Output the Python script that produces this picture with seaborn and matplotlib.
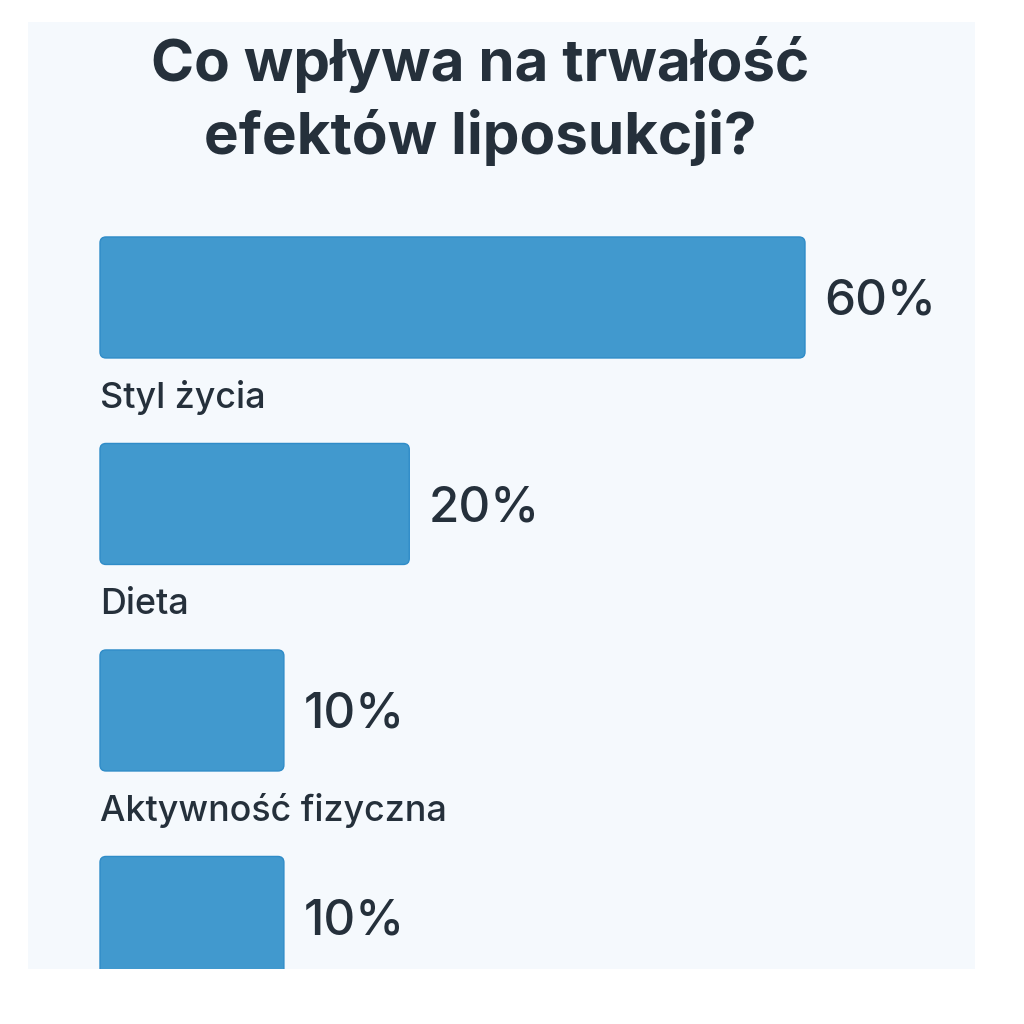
import numpy as np
import pandas as pd
import matplotlib
matplotlib.use("Agg")
import matplotlib.pyplot as plt
import seaborn as sns
from matplotlib.patches import FancyBboxPatch
from matplotlib.transforms import IdentityTransform

# ---- data ----
categories = ["Styl życia", "Dieta", "Aktywność fizyczna", "Genetyka"]
values = [60, 20, 10, 10]
value_labels = ["60%", "20%", "10%", "10%"]
title_text = "Co wpływa na trwałość\nefektów liposukcji?"

BAR = "#4199CE"
EDGE = "#2F8CC8"
TEXT = "#25303B"
PANEL = "#F5F9FD"

sns.set_theme(style="white")
plt.rcParams["font.family"] = ["Inter", "DejaVu Sans"]

W = H = 1024
fig = plt.figure(figsize=(10.24, 10.24), dpi=100, facecolor="white")

# axes covering the light panel
ax = fig.add_axes([28 / W, (H - 969) / H, 947 / W, 947 / H])
ax.set_facecolor(PANEL)

df = pd.DataFrame({"category": categories, "value": values})
sns.barplot(data=df, x="value", y="category", orient="h", color=BAR,
            width=0.586, ax=ax, saturation=1)

# compressed (power) value scale
p = 0.75
fwd = lambda v: np.sign(v) * np.abs(v) ** p
inv = lambda u: np.sign(u) * np.abs(u) ** (1 / p)
ax.set_xscale("function", functions=(fwd, inv))
k = 705 / fwd(60.0)  # pixels per transformed unit
ax.set_xlim(inv(-72 / k), inv(875 / k))
ax.set_ylim(3.252, -1.334)

for s in ax.spines.values():
    s.set_visible(False)
ax.set_xticks([])
ax.set_yticks([])
ax.set_xlabel("")
ax.set_ylabel("")

fig.canvas.draw()
# replace bars with rounded versions
bars = list(ax.patches)
for b in bars:
    x0, y0 = b.get_x(), b.get_y()
    w, h = b.get_width(), b.get_height()
    (px0, py0) = ax.transData.transform((x0, y0))
    (px1, py1) = ax.transData.transform((x0 + w, y0 + h))
    lx, rx = min(px0, px1), max(px0, px1)
    by, ty = min(py0, py1), max(py0, py1)
    r = 6
    fb = FancyBboxPatch((lx + r, by + r), (rx - lx) - 2 * r, (ty - by) - 2 * r,
                        boxstyle=f"round,pad={r}", transform=IdentityTransform(),
                        facecolor=BAR, edgecolor=EDGE, linewidth=1.0)
    fb.set_clip_path(ax.patch)
    ax.add_artist(fb)
    b.set_visible(False)

for i, (v, lab, cat) in enumerate(zip(values, value_labels, categories)):
    ax.annotate(lab, xy=(v, i), xytext=(14, -3), textcoords="offset points",
                ha="left", va="center", fontsize=35.5, fontweight=500, color=TEXT)
    ax.annotate(cat, xy=(0, i + 0.472), xytext=(0, -2), textcoords="offset points",
                ha="left", va="center", fontsize=25.8, fontweight=500, color=TEXT,
                annotation_clip=True, clip_on=True)

fig.text(480 / W, 1 - 101 / H, title_text, ha="center", va="center",
         fontsize=42, fontweight="bold", color=TEXT, linespacing=1.35)

fig.savefig("out.png", dpi=100, facecolor="white")
